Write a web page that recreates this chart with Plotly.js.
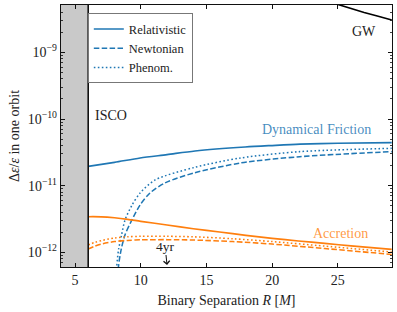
<!DOCTYPE html>
<html>
<head>
<meta charset="utf-8">
<script src="https://cdn.plot.ly/plotly-3.0.1.min.js"></script>
<style>html,body{margin:0;padding:0;background:#fff;}#chart{width:397px;height:312px;}</style>
</head>
<body>
<div id="chart"></div>
<script>
// ---- data ----
const xRange = [3.93, 29.12];
const yRangeLog = [-12.22, -8.29];
const iscoR = [6];

const dfRelX = [6, 8, 9.95, 12, 14.13, 17.94, 20, 22.12, 25, 29.1];
const dfRelY = [1.95e-11, 2.24e-11, 2.60e-11, 2.92e-11, 3.31e-11, 3.80e-11, 4.0e-11, 4.19e-11, 4.33e-11, 4.41e-11];

const dfNewtX = [8.25, 8.30, 8.5, 8.8, 9.26, 9.95, 10.7, 11.85, 14.1, 17.6, 22.1, 29.1];
const dfNewtY = [3.2e-13, 6.0e-13, 1.08e-12, 1.82e-12, 2.88e-12, 5.13e-12, 7.76e-12, 1.10e-11, 1.56e-11, 2.19e-11, 2.72e-11, 3.24e-11];

const dfPhenX = [8.12, 8.17, 8.31, 8.54, 8.8, 9.34, 9.95, 11.1, 14.1, 17.6, 22.1, 29.1];
const dfPhenY = [3.2e-13, 6.0e-13, 1.10e-12, 1.82e-12, 3.05e-12, 5.13e-12, 7.76e-12, 1.22e-11, 1.88e-11, 2.60e-11, 3.24e-11, 3.63e-11];

const accRelX = [6, 7, 8, 9, 10, 12, 14, 16, 18, 20, 22, 24, 26, 29.1];
const accRelY = [3.42e-12, 3.41e-12, 3.30e-12, 3.13e-12, 2.92e-12, 2.57e-12, 2.26e-12, 2.02e-12, 1.80e-12, 1.62e-12, 1.48e-12, 1.36e-12, 1.25e-12, 1.11e-12];

const accX = [6, 6.5, 7, 8, 9, 10, 12, 14, 17, 20, 24, 29.1];
const accNewtY = [1.12e-12, 1.24e-12, 1.33e-12, 1.45e-12, 1.51e-12, 1.54e-12, 1.55e-12, 1.53e-12, 1.45e-12, 1.33e-12, 1.14e-12, 9.3e-13];
const accPhenY = [1.29e-12, 1.41e-12, 1.50e-12, 1.64e-12, 1.71e-12, 1.74e-12, 1.74e-12, 1.71e-12, 1.60e-12, 1.45e-12, 1.24e-12, 1.01e-12];

const gwX = [24, 25, 26, 27, 28, 29.1];
const gwY = [6.0e-9, 5.2e-9, 4.53e-9, 3.97e-9, 3.5e-9, 3.05e-9];

const xTickVals = [5, 10, 15, 20, 25];
const yTickVals = [1e-12, 1e-11, 1e-10, 1e-9];
const yTickText = ['10<sup>−12</sup>', '10<sup>−11</sup>', '10<sup>−10</sup>', '10<sup>−9</sup>'];
const yMinorVals = [];
[-13, -12, -11, -10, -9].forEach(function (e) {
  for (let m = 2; m <= 9; m++) yMinorVals.push(m * Math.pow(10, e));
});

const legendNames = ['Relativistic', 'Newtonian', 'Phenom.'];
const labelDF = 'Dynamical Friction';
const labelAcc = 'Accretion';
const labelGW = 'GW';
const labelISCO = 'ISCO';
const label4yr = '4yr';
const r4yr = [12];

// ---- styling ----
const BLUE = '#1f77b4';
const ORANGE = '#ff7f0e';
const FONT = '"Liberation Serif", "Times New Roman", serif';
const LW = 1.7;
const DASH = '5.5px,2.4px';
const DOT = '1.6px,2.4px';

const traces = [
  {x: dfRelX, y: dfRelY, name: legendNames[0], mode: 'lines', line: {color: BLUE, width: LW, shape: 'spline', smoothing: 0.8}},
  {x: dfNewtX, y: dfNewtY, name: legendNames[1], mode: 'lines', line: {color: BLUE, width: LW * 0.9, dash: DASH, shape: 'spline', smoothing: 0.8}},
  {x: dfPhenX, y: dfPhenY, name: legendNames[2], mode: 'lines', line: {color: BLUE, width: LW * 0.9, dash: DOT, shape: 'spline', smoothing: 0.8}},
  {x: accRelX, y: accRelY, showlegend: false, mode: 'lines', line: {color: ORANGE, width: LW, shape: 'spline', smoothing: 0.8}},
  {x: accX, y: accNewtY, showlegend: false, mode: 'lines', line: {color: ORANGE, width: LW * 0.9, dash: DASH, shape: 'spline', smoothing: 0.8}},
  {x: accX, y: accPhenY, showlegend: false, mode: 'lines', line: {color: ORANGE, width: LW * 0.9, dash: DOT, shape: 'spline', smoothing: 0.8}},
  {x: gwX, y: gwY, showlegend: false, mode: 'lines', line: {color: '#000', width: 1.6}}
];

const layout = {
  width: 397, height: 312,
  margin: {l: 61, r: 5, t: 5, b: 45},
  paper_bgcolor: '#fff', plot_bgcolor: '#fff',
  font: {family: FONT, size: 14, color: '#222'},
  showlegend: true,
  legend: {
    x: 0.081, y: 0.968, xanchor: 'left', yanchor: 'top',
    bgcolor: 'rgba(255,255,255,0.9)', bordercolor: '#777', borderwidth: 1,
    font: {family: FONT, size: 12.5, color: '#222'},
    tracegroupgap: 0, itemwidth: 30
  },
  xaxis: {
    range: xRange, showgrid: false, zeroline: false,
    showline: true, linecolor: '#111', linewidth: 1.2, mirror: 'ticks',
    ticks: 'inside', ticklen: 4, tickwidth: 1, tickcolor: '#111',
    tickmode: 'array', tickvals: xTickVals,
    tickfont: {family: FONT, size: 14, color: '#222'},
    title: {text: 'Binary Separation <i>R</i> [<i>M</i>]', font: {family: FONT, size: 14, color: '#222'}, standoff: 8}
  },
  yaxis: {
    type: 'log', range: yRangeLog, showgrid: false, zeroline: false,
    showline: true, linecolor: '#111', linewidth: 1.2, mirror: 'ticks',
    ticks: 'inside', ticklen: 4, tickwidth: 1, tickcolor: '#111',
    tickmode: 'array', tickvals: yTickVals, ticktext: yTickText,
    tickfont: {family: FONT, size: 14, color: '#222'},
    minor: {tickmode: 'array', tickvals: yMinorVals, ticks: 'inside', ticklen: 2.2, tickwidth: 0.8, tickcolor: '#111', showgrid: false},
    title: {text: 'Δ<i>ε</i>/<i>ε</i> in one orbit', font: {family: FONT, size: 14, color: '#222'}, standoff: 4}
  },
  shapes: [
    {type: 'rect', xref: 'x', yref: 'paper', x0: xRange[0], x1: iscoR[0], y0: 0, y1: 1,
     fillcolor: '#c9c9c9', line: {width: 0}, layer: 'below'},
    {type: 'line', xref: 'x', yref: 'paper', x0: iscoR[0], x1: iscoR[0], y0: 0, y1: 1,
     line: {color: '#111', width: 1.6}}
  ],
  annotations: [
    {text: labelISCO, xref: 'x', yref: 'y', x: 6.35, y: -9.95, xanchor: 'left', yanchor: 'middle', showarrow: false,
     font: {family: FONT, size: 14, color: '#222'}},
    {text: labelDF, xref: 'x', yref: 'y', x: 23.4, y: -10.16, xanchor: 'center', yanchor: 'middle', showarrow: false,
     font: {family: FONT, size: 14, color: 'rgba(31,119,180,0.85)'}},
    {text: labelAcc, xref: 'x', yref: 'y', x: 25.2, y: -11.71, xanchor: 'center', yanchor: 'middle', showarrow: false,
     font: {family: FONT, size: 14, color: 'rgba(255,127,14,0.8)'}},
    {text: labelGW, xref: 'x', yref: 'y', x: 27.0, y: -8.69, xanchor: 'center', yanchor: 'middle', showarrow: false,
     font: {family: FONT, size: 14, color: '#222'}},
    {text: label4yr, xref: 'x', yref: 'y', x: r4yr[0], y: -12.19, ax: -2, ay: -19, showarrow: true,
     arrowhead: 4, arrowsize: 1.2, arrowwidth: 1, arrowcolor: '#111', standoff: 0, startstandoff: 0,
     font: {family: FONT, size: 13.5, color: '#222'}}
  ]
};

Plotly.newPlot('chart', traces, layout, {displayModeBar: false, staticPlot: true});
</script>
</body>
</html>
